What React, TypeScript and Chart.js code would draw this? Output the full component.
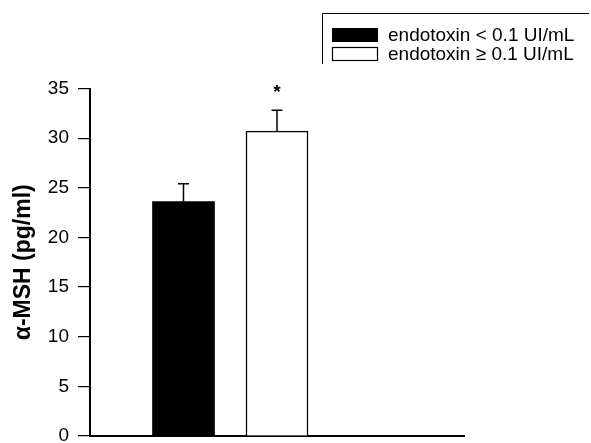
import React, { useEffect, useRef } from "react";
import { Chart, registerables } from "chart.js";

Chart.register(...registerables);

const categories = ["", "low", "high", "", ""];
const seriesLabels = ["endotoxin < 0.1 UI/mL", "endotoxin \u2265 0.1 UI/mL"];
const lowValues = [null, 23.6, null, null, null];
const highValues = [null, null, 30.7, null, null];
const lowErrors = [null, 1.8, null, null, null];
const highErrors = [null, null, 2.1, null, null];
const marks = ["", "", "*", "", ""];
const yTicks = [0, 5, 10, 15, 20, 25, 30, 35];
const yTitle = "\u03b1-MSH (pg/ml)";

const FONT = "'Liberation Sans', Arial, Helvetica, sans-serif";

const errorPlugin = {
  id: "errorBars",
  afterDatasetsDraw(chart: any) {
    const ctx = chart.ctx;
    const y = chart.scales.y;
    const errs = [lowErrors, highErrors];
    ctx.save();
    ctx.strokeStyle = "#000";
    ctx.lineWidth = 1.5;
    chart.data.datasets.forEach((ds: any, di: number) => {
      const meta = chart.getDatasetMeta(di);
      meta.data.forEach((bar: any, i: number) => {
        const v = ds.data[i];
        const e = errs[di][i];
        if (v == null || e == null) return;
        const x = bar.x;
        const y0 = y.getPixelForValue(v);
        const y1 = y.getPixelForValue(v + e);
        ctx.beginPath();
        ctx.moveTo(x, y0);
        ctx.lineTo(x, y1);
        ctx.moveTo(x - 5.5, y1);
        ctx.lineTo(x + 5.5, y1);
        ctx.stroke();
        if (marks[i]) {
          ctx.fillStyle = "#000";
          ctx.font = "bold 19px " + FONT;
          ctx.textAlign = "center";
          ctx.textBaseline = "middle";
          ctx.fillText(marks[i], x, y1 - 18);
        }
      });
    });
    ctx.restore();
  },
};

const legendPlugin = {
  id: "boxLegend",
  afterDraw(chart: any) {
    const ctx = chart.ctx;
    ctx.save();
    ctx.strokeStyle = "#000";
    ctx.lineWidth = 1;
    ctx.beginPath();
    ctx.moveTo(322.5, 64);
    ctx.lineTo(322.5, 13.5);
    ctx.lineTo(589, 13.5);
    ctx.stroke();
    const rows = [35, 54];
    chart.data.datasets.forEach((ds: any, i: number) => {
      const cy = rows[i];
      ctx.fillStyle = ds.backgroundColor;
      ctx.fillRect(332, cy - 7, 46, 14);
      if (i === 1) {
        ctx.lineWidth = 1.2;
        ctx.strokeRect(332.5, cy - 6.5, 45, 13);
      }
      ctx.fillStyle = "#000";
      ctx.font = "19px " + FONT;
      ctx.textAlign = "left";
      ctx.textBaseline = "middle";
      ctx.fillText(ds.label, 388, cy + 1);
    });
    ctx.restore();
  },
};

const titlePlugin = {
  id: "yTitle",
  afterDraw(chart: any) {
    const ctx = chart.ctx;
    const a = chart.chartArea;
    ctx.save();
    ctx.translate(24, (a.top + a.bottom) / 2);
    ctx.rotate(-Math.PI / 2);
    ctx.fillStyle = "#000";
    ctx.font = "bold 23px " + FONT;
    ctx.textAlign = "center";
    ctx.textBaseline = "middle";
    ctx.fillText(yTitle, 0, 0);
    ctx.restore();
  },
};

export default function App() {
  const ref = useRef<HTMLCanvasElement>(null);
  useEffect(() => {
    if (!ref.current) return;
    const chart = new Chart(ref.current, {
      type: "bar",
      data: {
        labels: categories,
        datasets: [
          {
            label: seriesLabels[0],
            data: lowValues,
            backgroundColor: "#000",
            borderColor: "#000",
            borderWidth: 0,
          },
          {
            label: seriesLabels[1],
            data: highValues,
            backgroundColor: "#fff",
            borderColor: "#000",
            borderWidth: 1.5,
          },
        ],
      } as any,
      options: {
        animation: false,
        responsive: false,
        maintainAspectRatio: false,
        layout: { padding: { top: 88.5, right: 127, bottom: 0, left: 0 } },
        datasets: { bar: { grouped: false, barThickness: 62 } } as any,
        plugins: { legend: { display: false }, tooltip: { enabled: false } },
        scales: {
          x: {
            type: "category",
            offset: false,
            grid: { display: false },
            ticks: { display: false },
            border: { display: true, color: "#000", width: 2 },
            afterFit: (s: any) => {
              s.height = 7;
              s.paddingLeft = 0;
              s.paddingRight = 0;
            },
          },
          y: {
            min: 0,
            max: 35,
            afterBuildTicks: (s: any) => {
              s.ticks = yTicks.map((v) => ({ value: v }));
            },
            grid: {
              display: true,
              drawOnChartArea: false,
              drawTicks: true,
              tickLength: 12,
              color: "#000",
              lineWidth: 1.2,
            },
            border: { display: true, color: "#000", width: 2 },
            ticks: {
              padding: 9,
              color: "#000",
              font: { family: FONT, size: 19 },
            },
            afterFit: (s: any) => {
              s.width = 90;
              s.paddingTop = 0;
              s.paddingBottom = 0;
            },
          },
        },
      },
      plugins: [errorPlugin, legendPlugin, titlePlugin],
    });
    return () => chart.destroy();
  }, []);
  return (
    <div style={{ position: "absolute", left: 0, top: 0, width: 591, height: 443, background: "#fff" }}>
      <canvas ref={ref} width={591} height={443} style={{ width: 591, height: 443 }} />
    </div>
  );
}
